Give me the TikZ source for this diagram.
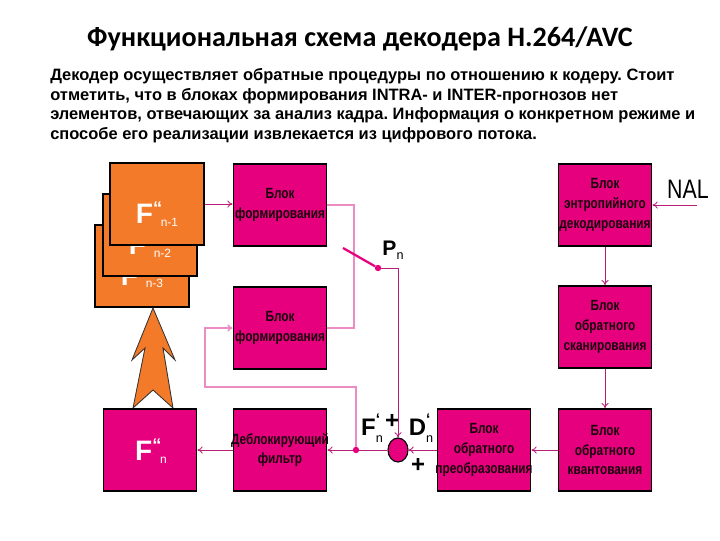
\documentclass[tikz,border=0pt]{standalone}
\usepackage{fontspec}
\usepackage{graphicx}
\setmainfont{Liberation Sans}
\newfontfamily\titlefont{Carlito}
\newfontfamily\blockfont[FakeStretch=0.8]{Liberation Sans}
\usetikzlibrary{arrows.meta,positioning,shapes.geometric}
\definecolor{blockpink}{RGB}{230,0,126}
\definecolor{frameorange}{RGB}{242,122,40}
\definecolor{wirepink}{RGB}{185,30,120}
\definecolor{fbpink}{RGB}{236,140,196}
\definecolor{blockink}{RGB}{25,0,12}
\tikzset{
  >={To[length=1.3mm,width=1.8mm]},
  block/.style = {draw=black, line width=1.2pt, fill=blockpink, minimum width=2.33cm, minimum height=2.05cm},
  blocktext/.style = {align=center, inner sep=0pt, font=\blockfont\bfseries\fontsize{10.5}{14}\selectfont},
  frame/.style = {draw=black, line width=1.2pt, fill=frameorange, minimum width=2.35cm, minimum height=2.05cm},
  wire/.style = {draw=wirepink, line width=0.6pt},
  fbwire/.style = {draw=fbpink, line width=1.1pt},
  jdot/.style = {circle, fill=blockpink, inner sep=0pt, minimum size=0.16cm},
  sumnode/.style = {ellipse, draw=black, line width=0.8pt, fill=blockpink, minimum width=0.5cm, minimum height=0.6cm, inner sep=0pt},
  bigarrow/.style = {draw=black!80, line width=0.6pt, fill=frameorange},
  sign/.style = {font=\fontsize{17}{17}\selectfont\bfseries, inner sep=0pt},
}
\newcommand{\frameLabel}[1]{%
  {\fontsize{20}{20}\selectfont\bfseries F}\raisebox{1.15ex}{\fontsize{13}{13}\selectfont\bfseries “}\kern-1pt\raisebox{-0.4ex}{\fontsize{8.5}{9}\selectfont #1}}
\newcommand{\primeLabel}[1]{%
  #1\rlap{\raisebox{0.9ex}{\fontsize{11}{11}\selectfont ‘}}\raisebox{-0.5ex}{\fontsize{9}{9}\selectfont\mdseries n}}

\begin{document}
\frenchspacing
\begin{tikzpicture}[x=0.025cm, y=-0.025cm]
  \useasboundingbox (0,0) rectangle (720,540);

  % title and text
  \node[font=\titlefont\fontsize{20}{24}\selectfont\bfseries] (title) at (360,39) {Функциональная схема декодера H.264/AVC};
  \node[anchor=north west, align=left, inner sep=0pt, font=\fontsize{11.7}{14}\selectfont\bfseries] (intro) at (50,68) {Декодер осуществляет обратные процедуры по отношению к кодеру. Стоит\\
отметить, что в блоках формирования INTRA- и INTER-прогнозов нет\\
элементов, отвечающих за анализ кадра. Информация о конкретном режиме и\\
способе его реализации извлекается из цифрового потока.};

  % blocks
  \node[block] (formTop) at (280,205) {};
  \node[block] (formMid) at (280,328) {};
  \node[block] (deblock) at (280,450) {};
  \node[block] (itrans) at (484,450) {};
  \node[block] (iquant) at (605,450) {};
  \node[block] (iscan) at (605,327) {};
  \node[block] (entropy) at (605,205) {};
  \node[blocktext] (formTopText) at (formTop) {\color{blockink}Блок\\\color{blockink}формирования};
  \node[blocktext] (formMidText) at (formMid) {\color{blockink}Блок\\\color{blockink}формирования};
  \node[blocktext] (deblockText) at (deblock) {\color{blockink}Деблокирующий\\\color{blockink}фильтр};
  \node[blocktext] (itransText) at (itrans) {\color{blockink}Блок\\\color{blockink}обратного\\\color{blockink}преобразования};
  \node[blocktext] (iquantText) at (iquant) {\color{blockink}Блок\\\color{blockink}обратного\\\color{blockink}квантования};
  \node[blocktext] (iscanText) at (iscan) {\color{blockink}Блок\\\color{blockink}обратного\\\color{blockink}сканирования};
  \node[blocktext] (entropyText) at (entropy) {\color{blockink}Блок\\\color{blockink}энтропийного\\\color{blockink}декодирования};

  % reference frames
  \foreach \k/\fx/\fy in {3/142/266, 2/150/235, 1/157/204} {
    \node[frame] (frame\k) at (\fx,\fy) {};
    \node[inner sep=0pt] at ([yshift=-0.25cm]frame\k.center) {\textcolor{white}{\frameLabel{n-\k}}};
  }

  % big arrow to the frame store
  \draw[bigarrow] (153,308) -- (175,360) -- (163,348) -- (173,408) -- (153,390) -- (133,408) -- (145,348) -- (132,360) -- cycle;
  \node[block] (fn) at (150,450) {};
  \node[inner sep=0pt] (fnLabel) at (151,451) {\textcolor{white}{\frameLabel{n}}};

  % NAL input
  \node[font=\blockfont\fontsize{19}{19}\selectfont, inner sep=0pt] (nal) at (688,189) {NAL};
  \coordinate (nalIn) at (697,205);
  \draw[wire,->] (nalIn) -- (entropy.east);
  \draw[wire,->] (entropy.south) -- (entropy.south |- iscan.north);
  \draw[wire,->] (iscan.south) -- (iscan.south |- iquant.north);
  \draw[wire,->] (iquant.west) -- (itrans.east);

  % summation
  \node[sumnode] (sum) at (398,450) {};
  \node[jdot] (split) at (356,450) {};
  \draw[wire,->] (itrans.west) -- (sum.east);
  \draw[wire] (sum.west) -- (split);
  \draw[wire,->] (split) -- (deblock.east);
  \draw[wire,->] (deblock.west) -- (fn.east);
  \node[sign] (plusTop) at (392,421) {+};
  \node[sign] (plusBot) at (418,465) {+};
  \node[font=\fontsize{17}{17}\selectfont\bfseries, inner sep=0pt] (fLabel) at (372,428) {\primeLabel{F}};
  \node[font=\fontsize{17}{17}\selectfont\bfseries, inner sep=0pt] (dLabel) at (421,428) {\primeLabel{D}};

  % prediction outputs and switch
  \draw[wire,->] (frame1.east) -- (frame1.east -| formTop.west);
  \coordinate (busTop) at (354,205);
  \coordinate (busBot) at (354,328);
  \draw[fbwire] (formTop.east) -- (busTop) -- (busBot) -- (formMid.east);
  \coordinate (swPivot) at (343,248);
  \node[jdot] (swDot) at (378,268) {};
  \draw[draw=blockpink, line width=1.6pt] (swPivot) -- (swDot);
  \draw[wire,->] (swDot) -| (sum.north);
  \node[font=\fontsize{15}{15}\selectfont\bfseries, inner sep=0pt] (pLabel) at (393,250) {P\raisebox{-0.4ex}{\fontsize{9}{9}\selectfont\mdseries n}};

  % feedback to intra prediction
  \coordinate (fbRight) at (356,387);
  \coordinate (fbLeft) at (205,387);
  \draw[fbwire,->] (split) -- (fbRight) -- (fbLeft) |- (formMid.west);
\end{tikzpicture}
\end{document}
